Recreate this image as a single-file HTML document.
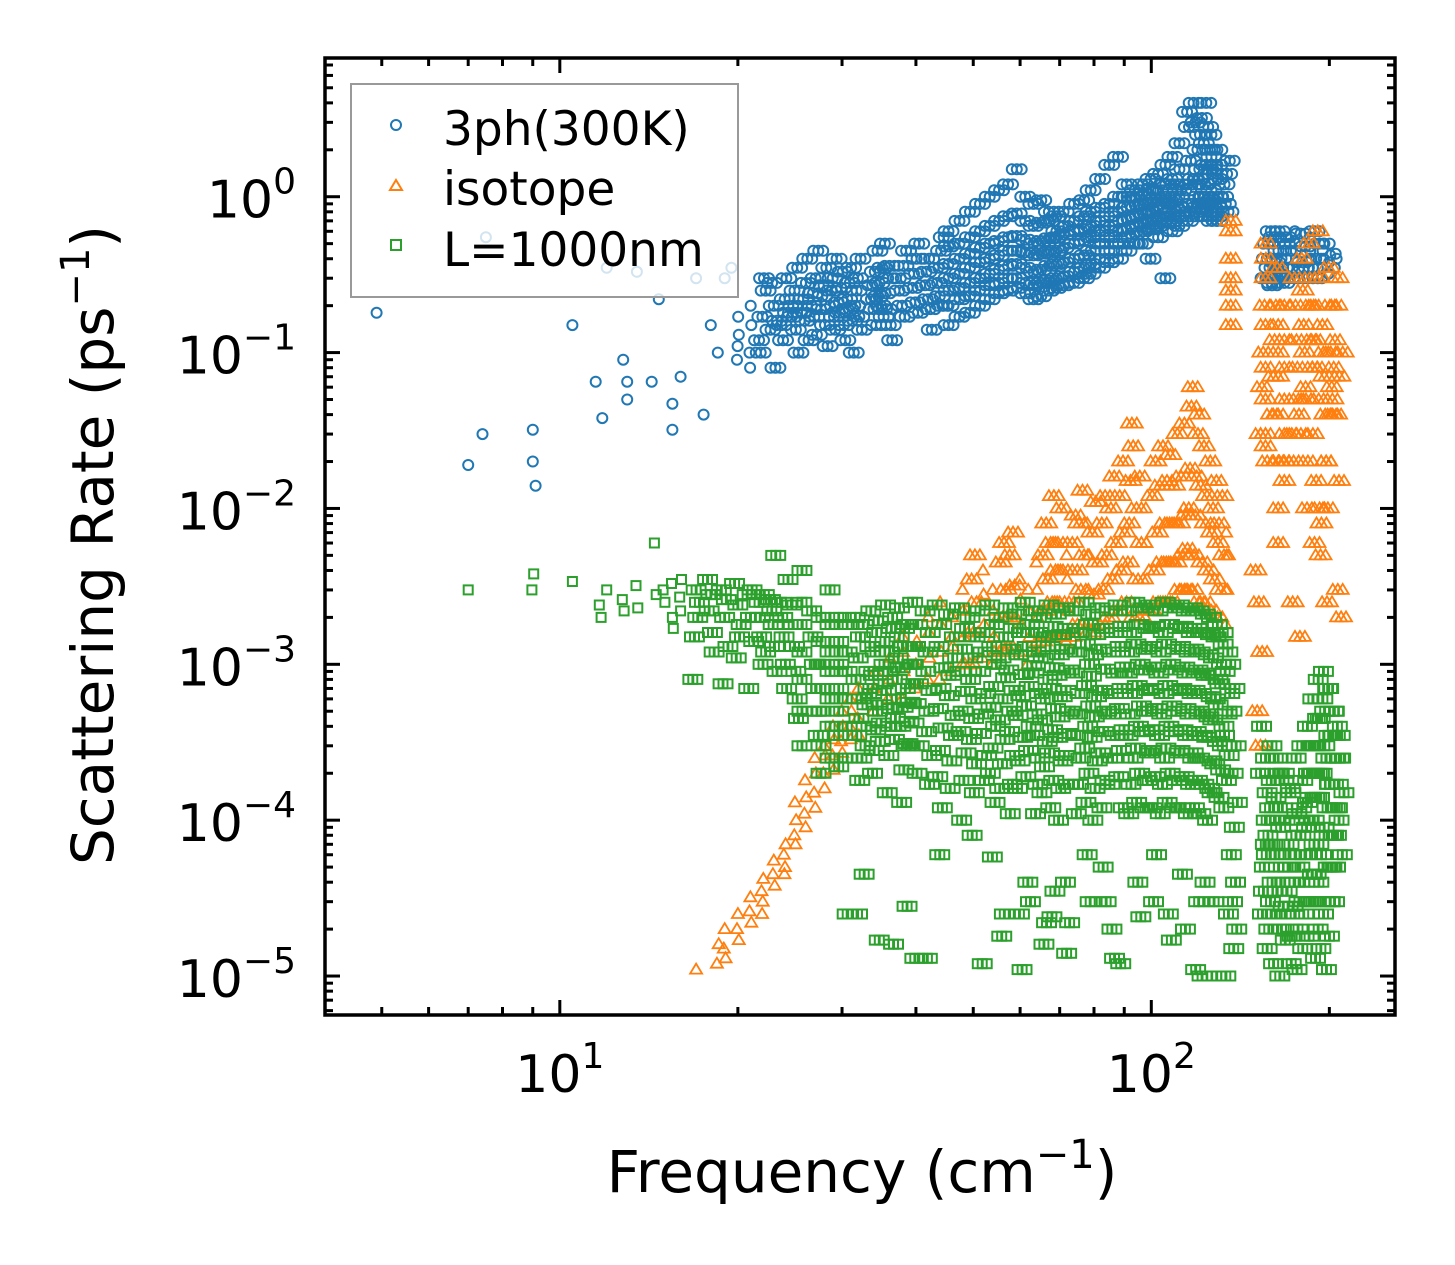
<!DOCTYPE html>
<html><head><meta charset="utf-8"><style>
html,body{margin:0;padding:0;background:#fff;}
svg{display:block;font-family:"DejaVu Sans","Liberation Sans",sans-serif;}
</style></head>
<body>
<svg id="chart" width="1455" height="1265" viewBox="0 0 1455 1265" xmlns="http://www.w3.org/2000/svg">
<rect width="1455" height="1265" fill="#fff"/>
<g id="marks-blue"></g>
<g id="marks-orange"></g>
<g id="marks-green"></g>
<g id="axes"></g>
<g id="legend">
  <rect x="351" y="84" width="387" height="213" fill="#fff" fill-opacity="0.8" stroke="#999" stroke-width="2"/>
  <g>
    <circle cx="396" cy="125" r="5" fill="none" stroke="#1f77b4" stroke-width="2"/>
    <text x="443" y="145" font-size="47">3ph(300K)</text>
  </g>
  <g>
    <polygon points="396,180 402,190 390,190" fill="none" stroke="#ff7f0e" stroke-width="2"/>
    <text x="443" y="205" font-size="47">isotope</text>
  </g>
  <g>
    <rect x="391" y="240" width="10" height="10" fill="none" stroke="#2ca02c" stroke-width="2"/>
    <text x="443" y="266" font-size="47">L=1000nm</text>
  </g>
</g>
<text x="862" y="1192" font-size="58" text-anchor="middle">Frequency (cm<tspan dy="-24" font-size="40">−1</tspan><tspan dy="24">)</tspan></text>
<text transform="translate(113,545) rotate(-90)" font-size="58" text-anchor="middle">Scattering Rate (ps<tspan dy="-24" font-size="40">−1</tspan><tspan dy="24">)</tspan></text>
</svg>
<script>
// ---- data ----
const blueFreq = [4.9,7,7.4,7.5,9,9,9.1,10.5,11.5,11.8,12,12.8,13,13,13.5,14.3,14.7,15.5,15.5,16,17,17.5,18,18.5,19,19.5];
const blueRate = [0.18,0.019,0.03,0.55,0.032,0.02,0.014,0.15,0.065,0.038,0.35,0.09,0.05,0.065,0.33,0.065,0.22,0.032,0.047,0.07,0.3,0.04,0.15,0.1,0.3,0.35];
const blueColFreq = [20,21,22,23,24,25,26,27,28,29,30,31,32,34,35,36,38,40,42,44,46,48,50,52,54,56,58,60,62,64,66,68,70,72,75,78,80,83,86,89,92,95,98,101,104,107,110,113,116,119,122,125,128,131,134,158,162,166,170,175,180,185,190,195,200,205];
const blueColRates = [
[.09,.13,.17,.11],[.1,.15,.2,.08],[.12,.17,.25,.1,.3],[.14,.2,.16,.28,.08],[.15,.22,.18,.12,.3],
[.17,.2,.25,.14,.35,.1],[.18,.22,.16,.28,.4,.12],[.2,.24,.17,.3,.13,.45],[.19,.23,.27,.15,.35,.11],[.2,.25,.3,.17,.14,.4],
[.21,.18,.26,.33,.15,.12],[.22,.19,.28,.35,.16,.1],[.2,.25,.3,.17,.4,.14],[.22,.27,.19,.33,.15,.45],[.23,.28,.2,.35,.17,.5],
[.24,.19,.3,.36,.15,.12],[.25,.3,.2,.36,.17,.45],[.26,.32,.21,.4,.18,.5],[.27,.33,.22,.4,.19,.14],[.28,.35,.23,.45,.2,.55],
[.3,.37,.25,.48,.2,.6,.15],[.32,.4,.26,.5,.22,.7,.17],[.35,.43,.28,.55,.23,.8,.18],[.38,.47,.3,.6,.25,.9,.2],[.4,.5,.32,.65,.27,1,.22],
[.42,.52,.34,.7,.28,1.1,.24],[.45,.55,.36,.75,.3,1.2,.25],[.45,.56,.37,.78,.3,1.5,.26],[.44,.53,.35,.7,.28,1.0,.24],[.42,.5,.33,.65,.27,.9,.22],
[.43,.52,.34,.68,.28,.95,.23],[.44,.54,.36,.7,.29,.8,.25],[.45,.55,.37,.6,.3,.75,.26],[.47,.57,.38,.65,.31,.8,.27],[.5,.6,.4,.7,.33,.9,.28],
[.52,.62,.42,.75,.35,.95,.3],[.55,.65,.45,.8,.37,1.1,.32],[.6,.7,.5,.85,.4,1.3,.35],[.65,.75,.55,.9,.45,1.6,.38],[.7,.8,.6,1,.5,1.8,.4],
[.72,.85,.62,1,.55,1.2,.45],[.75,.88,.65,1,.58,1.1,.5],[.78,.9,.68,1.05,.6,1.2,.5],[.8,.92,.7,1.1,.62,1.3,.4],[.85,.95,.72,1.1,.65,1.4,.55],
[.9,1,.75,1.2,.68,1.6,.3],[.95,1.1,.8,1.3,.7,1.8,.6],[1,1.2,.85,1.5,.75,2.2,.65],[1.1,1.3,.9,1.7,.8,2.8,.7,3.5],[1.2,1.5,1,2,.85,3,.75,4],
[1.3,1.6,1,2.2,.9,3.2,.8,2.5],[1.2,1.5,.95,2,.85,2.8,.75,4],[1.1,1.4,.9,1.8,.8,2.5,.7],[1.0,1.3,.85,1.6,.75,2,.7],[1,1.2,.9,1.4,.8,1.7],
[.3,.4,.5,.35,.6,.27],[.28,.38,.45,.55,.32],[.3,.4,.5,.6,.35],[.28,.35,.45,.55,.3],[.3,.4,.5,.6],
[.3,.38,.48,.58,.35],[.35,.45,.55,.4],[.3,.4,.5,.6,.35],[.3,.4,.5,.45],[.32,.42,.5,.38],[.35,.43,.4]
];
const orangeColFreq = [17,18.5,19,20,21,22,23,24,25,26,27,28,29,30,31,32,34,36,38,40,42,44,46,48,50,52,54,56,58,60,62,64,66,68,70,72,74,76,78,80,83,86,89,92,95,98,101,104,107,110,113,116,119,122,125,128,131,134,138,152,155,158,162,166,170,175,180,185,190,195,200,205,208];
const orangeColRates = [
[1.1e-5],[1.2e-5,1.6e-5],[1.5e-5,2e-5,1.3e-5],[2e-5,2.5e-5,1.7e-5],[2.6e-5,3.2e-5,2.2e-5],[3.5e-5,4.2e-5,3e-5,2.5e-5],
[4.5e-5,5.5e-5,3.8e-5],[6e-5,7e-5,5e-5,4.5e-5],[8e-5,1e-4,7e-5,1.3e-4],[1.1e-4,1.4e-4,9e-5,1.8e-4],[1.5e-4,2e-4,1.2e-4,2.5e-4],
[2e-4,2.6e-4,1.6e-4,3e-4],[2.6e-4,3.3e-4,2.1e-4,4e-4],[3.2e-4,4e-4,2.7e-4,5e-4],[4e-4,5e-4,3.3e-4,6e-4],[4.5e-4,6e-4,3.5e-4,7e-4],
[5e-4,7e-4,9e-4],[6e-4,8e-4,1.1e-3],[6e-4,9e-4,1.2e-3,1.5e-3],[7e-4,1e-3,1.4e-3],[8e-4,1.1e-3,1.6e-3,2e-3],[8e-4,1.2e-3,1.8e-3,2.5e-3],
[9e-4,1.3e-3,2e-3,1.5e-3],[1e-3,1.5e-3,2.2e-3,3e-3],[1e-3,1.6e-3,2.5e-3,3.5e-3,5e-3],[1.1e-3,1.8e-3,2.8e-3,4e-3],[1e-3,1.5e-3,2.2e-3,3e-3],
[1.2e-3,2e-3,3e-3,4.5e-3,6e-3],[1.3e-3,2e-3,3.2e-3,5e-3,7e-3],[1.2e-3,1.8e-3,2.6e-3,3.5e-3],[1e-3,1.5e-3,2.2e-3,3e-3],[1.2e-3,2e-3,3e-3,4.5e-3],
[1.4e-3,2.2e-3,3.5e-3,5e-3,8e-3],[1.5e-3,2.5e-3,4e-3,6e-3,1.2e-2],[1.5e-3,2.5e-3,4e-3,6e-3,1e-2],[1.4e-3,2.2e-3,3.5e-3,5e-3],
[1.5e-3,2.5e-3,4e-3,6e-3,9e-3],[1.8e-3,3e-3,5e-3,8e-3,1.3e-2],[1.8e-3,3e-3,5e-3,8e-3],[1.6e-3,2.8e-3,4.5e-3,7e-3,1.1e-2],
[1.8e-3,3e-3,5e-3,8e-3,1.2e-2],[2e-3,3.5e-3,6e-3,1e-2,1.6e-2],[2.2e-3,4e-3,7e-3,1.2e-2,2e-2],[2.5e-3,4.5e-3,8e-3,1.5e-2,3.5e-2,2.5e-2],
[2e-3,3.5e-3,6e-3,1e-2,1.6e-2],[2e-3,3.5e-3,6e-3,1e-2],[2.2e-3,4e-3,7e-3,1.2e-2,2e-2],[2.5e-3,4.5e-3,8e-3,1.4e-2,2.5e-2],
[2.5e-3,4.5e-3,8e-3,1.5e-2,2.2e-2],[2.5e-3,4.5e-3,8e-3,1.4e-2,3e-2],[3e-3,5e-3,9e-3,1.6e-2,3.5e-2],[3e-3,5.5e-3,1e-2,1.8e-2,4.5e-2,6e-2],
[3e-3,5e-3,9e-3,1.6e-2,3e-2,4e-2],[2.5e-3,4.5e-3,8e-3,1.4e-2,2.5e-2],[2.5e-3,4e-3,7e-3,1.2e-2,2e-2],[2.2e-3,3.5e-3,6e-3,1e-2,1.5e-2],
[2e-3,3e-3,5e-3,8e-3,1.2e-2],[1.8e-3,3e-3,5e-3,7e-3],[.15,.25,.4,.6,.7,.2,.3],[4e-3,2.5e-3,1.2e-3,5e-4,3e-4],
[.03,.06,.1,.2,.4,.02],[.03,.05,.08,.15,.3,.5,.025],[.04,.07,.12,.2,.35,.02],[.02,.04,.07,.1,.15,.01,6e-3],
[.02,.03,.05,.08,.12,.2,.015],[.03,.05,.08,.12,.2,.3,.02,2.5e-3],[.04,.06,.1,.15,.25,.4,.03,1.5e-3],[.05,.08,.12,.2,.3,.5,.02,.01],
[.03,.05,.08,.12,.2,.3,.6,.015,6e-3],[.01,.02,.04,.07,.1,.15,.008,5e-3],[.02,.04,.06,.1,.2,.35,.01,2.5e-3],[.05,.08,.12,.2,.3,.015],[.04,.07,.1,3e-3,2e-3]
];
const greenColFreq = [7,9,10.5,11.7,12,12.8,13.5,14.5,15,15.5,16,17,18,19,20,21,22,23,24,25,26,27,28,29,30,31,32,33,34,35,36,37,38,39,40,42,44,46,48,50,52,54,56,58,60,62,64,66,68,70,72,75,78,80,83,86,89,92,95,98,101,104,107,110,113,116,119,122,125,128,131,134,138,155,158,162,166,170,174,178,182,186,190,194,198,202,206,209];
const greenColRates = [
[3e-3],[3e-3,3.8e-3],[3.4e-3],[2.4e-3,2e-3],[3e-3],[2.6e-3,2.2e-3],[3.2e-3,2.3e-3],[6e-3,2.8e-3],[3e-3,2.5e-3],[3.3e-3,2e-3,1.7e-3],
[2.7e-3,2.2e-3,3.5e-3],[8e-4,3e-3,2.5e-3,1.5e-3,2e-3],[3.5e-3,2.8e-3,1.2e-3,2.2e-3,1.6e-3],[3e-3,2e-3,1.3e-3,7.5e-4,2.6e-3],
[3.3e-3,2.4e-3,1.8e-3,1.1e-3,1.5e-3],[2.8e-3,2e-3,1.4e-3,7e-4,3e-3],[2.5e-3,2e-3,1.5e-3,1e-3,2.8e-3,1.2e-3],[2.6e-3,2.2e-3,1.8e-3,1.3e-3,5e-3,9e-4],
[2.5e-3,2e-3,1.5e-3,1e-3,7e-4,3.5e-3],[2.4e-3,1.8e-3,1.3e-3,9e-4,6e-4,4.5e-4],[2.5e-3,1.8e-3,1.2e-3,8e-4,5e-4,3e-4,4e-3],
[2.2e-3,1.5e-3,1e-3,7e-4,5e-4,3.5e-4],[2e-3,1.4e-3,1e-3,7e-4,5e-4,3e-4,2e-4],[1.8e-3,1.2e-3,9e-4,6e-4,4e-4,2.5e-4,3e-3],
[2e-3,1.4e-3,1e-3,7e-4,5e-4,3.5e-4,2.2e-4],[1.8e-3,1.2e-3,9e-4,6e-4,4e-4,2.5e-5,2.5e-4],
[2e-3,1.5e-3,1.1e-3,8e-4,6e-4,4.5e-4,3.5e-4,2.5e-4,1.8e-4,2.5e-5],[1.8e-3,1.3e-3,9e-4,7e-4,5.5e-4,4e-4,3e-4,4.5e-5],
[2.2e-3,1.6e-3,1.2e-3,8.5e-4,6.5e-4,5e-4,3.8e-4,2.8e-4,2e-4],[1.9e-3,1.4e-3,1e-3,7.5e-4,5.5e-4,4.2e-4,3.2e-4,1.7e-5],
[2.4e-3,1.7e-3,1.2e-3,9e-4,6.8e-4,5.2e-4,4e-4,2.6e-4,1.5e-4],[2e-3,1.5e-3,1.1e-3,8e-4,6e-4,4.5e-4,3.3e-4,1.6e-5],
[2.3e-3,1.7e-3,1.3e-3,9.5e-4,7e-4,5.3e-4,4e-4,3e-4,2.1e-4,1.3e-4],[1.8e-3,1.3e-3,1e-3,7.5e-4,5.7e-4,4.3e-4,3.1e-4,2.8e-5],
[2.5e-3,1.8e-3,1.3e-3,1e-3,7.5e-4,5.6e-4,4.2e-4,3e-4,2e-4,1.3e-5],[2.2e-3,1.6e-3,1.2e-3,9e-4,6.8e-4,5e-4,3.7e-4,2.6e-4,1.7e-4,1.3e-5],
[2.4e-3,1.8e-3,1.3e-3,9.5e-4,7e-4,5.2e-4,3.9e-4,2.8e-4,1.9e-4,1.2e-4,6e-5],[2.1e-3,1.5e-3,1.1e-3,8.5e-4,6.3e-4,4.7e-4,3.5e-4,2.4e-4,1.6e-4],
[2.3e-3,1.7e-3,1.25e-3,9e-4,6.7e-4,5e-4,3.7e-4,2.7e-4,1.8e-4,1e-4],[2e-3,1.5e-3,1.1e-3,8e-4,6e-4,4.5e-4,3.3e-4,2.3e-4,1.5e-4,8e-5],
[2.2e-3,1.6e-3,1.2e-3,9e-4,6.5e-4,4.8e-4,3.6e-4,2.6e-4,1.8e-4,1.2e-5],[2.4e-3,1.8e-3,1.3e-3,1e-3,7.2e-4,5.3e-4,4e-4,2.9e-4,2e-4,1.3e-4,5.8e-5],
[2e-3,1.5e-3,1.1e-3,8.2e-4,6e-4,4.4e-4,3.3e-4,2.3e-4,1.6e-4,2.5e-5,1.8e-5],[2.3e-3,1.7e-3,1.25e-3,9.2e-4,6.8e-4,5e-4,3.7e-4,2.6e-4,1.7e-4,1.1e-4],
[2.1e-3,1.6e-3,1.15e-3,8.6e-4,6.3e-4,4.7e-4,3.4e-4,2.4e-4,1.6e-4,1.1e-5,2.5e-5],[2.5e-3,1.8e-3,1.3e-3,9.8e-4,7.2e-4,5.4e-4,4e-4,2.8e-4,1.9e-4,3e-5,4e-5],
[2.2e-3,1.6e-3,1.2e-3,8.8e-4,6.5e-4,4.8e-4,3.5e-4,2.5e-4,1.7e-4,1.1e-4],[2e-3,1.5e-3,1.1e-3,8e-4,6e-4,4.4e-4,3.2e-4,2.2e-4,1.5e-4,2.2e-5,1.6e-5],
[2.4e-3,1.75e-3,1.3e-3,9.5e-4,7e-4,5.2e-4,3.8e-4,2.7e-4,1.8e-4,1.2e-4,3.5e-5,2.4e-5],[2.1e-3,1.55e-3,1.15e-3,8.5e-4,6.2e-4,4.6e-4,3.4e-4,2.4e-4,1.6e-4,1e-4],
[2.3e-3,1.7e-3,1.25e-3,9.2e-4,6.8e-4,5e-4,3.6e-4,2.6e-4,1.7e-4,4e-5,2.2e-5,1.4e-5],[2.2e-3,1.6e-3,1.2e-3,8.8e-4,6.5e-4,4.8e-4,3.5e-4,2.5e-4,1.7e-4,1.1e-4],
[2.5e-3,1.8e-3,1.35e-3,1e-3,7.3e-4,5.4e-4,4e-4,2.9e-4,2e-4,1.3e-4,3e-5,6e-5],[2.1e-3,1.55e-3,1.15e-3,8.4e-4,6.2e-4,4.6e-4,3.4e-4,2.4e-4,1.6e-4,1e-4],
[2.3e-3,1.7e-3,1.25e-3,9.3e-4,6.8e-4,5e-4,3.7e-4,2.7e-4,1.8e-4,1.2e-4,3e-5,5e-5],[2.2e-3,1.6e-3,1.2e-3,8.8e-4,6.5e-4,4.8e-4,3.5e-4,2.5e-4,1.7e-4,1.3e-5,2e-5],
[2.4e-3,1.75e-3,1.3e-3,9.6e-4,7e-4,5.2e-4,3.8e-4,2.8e-4,1.9e-4,1.2e-4,1.2e-5],[2.2e-3,1.6e-3,1.2e-3,8.8e-4,6.5e-4,4.8e-4,3.5e-4,2.5e-4,1.7e-4,1.1e-4],
[2.5e-3,1.8e-3,1.35e-3,1e-3,7.3e-4,5.4e-4,4e-4,2.9e-4,2e-4,1.3e-4,2.4e-5,4e-5],[2.3e-3,1.7e-3,1.25e-3,9.2e-4,6.8e-4,5e-4,3.7e-4,2.7e-4,1.8e-4,1.2e-4],
[2.4e-3,1.75e-3,1.3e-3,9.6e-4,7e-4,5.2e-4,3.8e-4,2.8e-4,1.9e-4,1.2e-4,6e-5,3e-5],[2.2e-3,1.6e-3,1.2e-3,8.8e-4,6.5e-4,4.8e-4,3.5e-4,2.5e-4,1.7e-4,1.1e-4],
[2.5e-3,1.8e-3,1.35e-3,1e-3,7.3e-4,5.4e-4,4e-4,2.9e-4,2e-4,1.3e-4,1.7e-5,2.5e-5],[2.3e-3,1.7e-3,1.25e-3,9.2e-4,6.8e-4,5e-4,3.7e-4,2.7e-4,1.8e-4,1.2e-4],
[2.4e-3,1.75e-3,1.3e-3,9.6e-4,7e-4,5.2e-4,3.8e-4,2.8e-4,1.9e-4,1.2e-4,2e-5,4.5e-5],[2.2e-3,1.6e-3,1.2e-3,8.8e-4,6.5e-4,4.8e-4,3.5e-4,2.5e-4,1.7e-4,1.1e-4],
[2.3e-3,1.7e-3,1.25e-3,9.2e-4,6.8e-4,5e-4,3.7e-4,2.7e-4,1.8e-4,1.2e-4,3e-5,1.1e-5],[2.2e-3,1.6e-3,1.2e-3,8.8e-4,6.5e-4,4.8e-4,3.5e-4,2.5e-4,1.7e-4,1.1e-4,4e-5,1e-5],
[2.1e-3,1.55e-3,1.15e-3,8.5e-4,6.2e-4,4.6e-4,3.4e-4,2.4e-4,1.6e-4,1e-4],[2e-3,1.5e-3,1.1e-3,8e-4,6e-4,4.4e-4,3.2e-4,2.3e-4,1.5e-4,1e-5,3e-5],
[1.8e-3,1.35e-3,1e-3,7.5e-4,5.5e-4,4e-4,3e-4,2.1e-4,1.4e-4],[1.6e-3,1.2e-3,9e-4,6.5e-4,4.8e-4,3.5e-4,2.6e-4,1.8e-4,1.2e-4,2.5e-5,1e-5],
[1e-3,7e-4,5e-4,3e-4,2e-4,1.3e-4,9e-5,6e-5,4e-5,3e-5,2e-5,1.5e-5],
[2e-4,1.5e-4,1e-4,7e-5,5e-5,3.5e-5,2.5e-5,4e-4],[2.5e-4,1.8e-4,1.2e-4,8e-5,6e-5,4e-5,3e-5,2e-5,1.5e-5],
[3e-4,2e-4,1.4e-4,1e-4,7e-5,5e-5,3.5e-5,2.5e-5,1.2e-5],[2.5e-4,1.8e-4,1.2e-4,9e-5,6e-5,4e-5,2.8e-5,2e-5,1e-5],
[2e-4,1.5e-4,1e-4,7e-5,5e-5,3.5e-5,2.5e-5,1.7e-5],[1.6e-4,1.1e-4,8e-5,6e-5,4e-5,2.8e-5,1.8e-5,1.2e-5],
[2.5e-4,1.8e-4,1.2e-4,8e-5,5e-5,3e-5,2e-5,1.1e-5],[3e-4,2e-4,1.3e-4,9e-5,6e-5,4e-5,2.5e-5,1.5e-5],
[4e-4,3e-4,2e-4,1.4e-4,1e-4,7e-5,4.5e-5,3e-5,1.8e-5],[6e-4,4.5e-4,3e-4,2e-4,1.4e-4,1e-4,7e-5,4.5e-5,3e-5,2e-5,1.3e-5],
[8e-4,6e-4,4.5e-4,3e-4,2e-4,1.4e-4,9e-5,6e-5,4e-5,2.5e-5,1.5e-5],[9e-4,7e-4,5e-4,3.5e-4,2.5e-4,1.7e-4,1.2e-4,8e-5,5e-5,3e-5,1.8e-5,1.1e-5],
[7e-4,5e-4,3.5e-4,2.5e-4,1.7e-4,1.2e-4,8e-5,5e-5,3e-5],[5e-4,3.5e-4,2.5e-4,1.7e-4,1.2e-4,8e-5,5e-5,3e-5],[4e-4,2.5e-4,1.5e-4,1e-4,6e-5]
];
const xTickValues = [10, 100];
const xTickExps = ["1", "2"];
const yTickValues = [1, 0.1, 0.01, 0.001, 0.0001, 0.00001];
const yTickExps = ["0", "−1", "−2", "−3", "−4", "−5"];

// ---- axes functions ----
const L = 325, R = 1395, T = 58, B = 1015;
const xMinLog = 0.603, xMaxLog = 2.412;
const yMinLog = -5.25, yMaxLog = 0.89;
function xs(v){ return L + (Math.log10(v) - xMinLog) / (xMaxLog - xMinLog) * (R - L); }
function ys(v){ return B - (Math.log10(v) - yMinLog) / (yMaxLog - yMinLog) * (B - T); }
const NS = "http://www.w3.org/2000/svg";
function mk(tag, attrs, parent){
  const e = document.createElementNS(NS, tag);
  for (const k in attrs) e.setAttribute(k, attrs[k]);
  parent.appendChild(e);
  return e;
}
function circle(g, x, r){
  const e = mk("circle", {cx: x.toFixed(1), cy: ys(r).toFixed(1), r: 5, fill: "none", stroke: "#1f77b4", "stroke-width": 2}, g);
  
  
}
function tri(g, x, r){
  const y = ys(r);
  const e = mk("polygon", {points: `${x.toFixed(1)},${(y-6).toFixed(1)} ${(x+6).toFixed(1)},${(y+4).toFixed(1)} ${(x-6).toFixed(1)},${(y+4).toFixed(1)}`, fill: "none", stroke: "#ff7f0e", "stroke-width": 1.8}, g);
  
  
}
function sq(g, x, r){
  const e = mk("rect", {x: (x-4.5).toFixed(1), y: (ys(r)-4.5).toFixed(1), width: 9, height: 9, fill: "none", stroke: "#2ca02c", "stroke-width": 2}, g);
  
  
}
// each column's points are spread over the column's pixel interval
function drawCols(g, freqs, rates, fn){
  freqs.forEach((f,i)=>{
    const x0 = xs(f);
    const vals = rates[i];
    const n = vals.length;
    const w = n >= 5 ? 11 : 3;
    vals.forEach((r,j)=>{
      const off = n > 1 ? ((j*7) % n) / (n-1) - 0.5 : 0;
      const x = x0 + off*w*0.6;
      if (n >= 5){ fn(g, x - w*0.45, r); fn(g, x + w*0.45, r); }
      fn(g, x, r);
    });
  });
}
const gB = document.getElementById("marks-blue");
const gO = document.getElementById("marks-orange");
const gG = document.getElementById("marks-green");
blueFreq.forEach((f,i)=>circle(gB, xs(f), blueRate[i]));
drawCols(gB, blueColFreq, blueColRates, circle);
drawCols(gO, orangeColFreq, orangeColRates, tri);
drawCols(gG, greenColFreq, greenColRates, sq);

// ---- axes drawing ----
const gA = document.getElementById("axes");
const frame = mk("rect", {x: L, y: T, width: R-L, height: B-T, fill: "none", stroke: "#000", "stroke-width": 3.5}, gA);


for (let d = 0; d <= 2; d++){
  for (let m = 1; m <= 9; m++){
    const v = m * Math.pow(10, d);
    const lg = Math.log10(v);
    if (lg < xMinLog || lg > xMaxLog) continue;
    const len = m === 1 ? 15 : 8;
    const x = xs(v);
    mk("line", {x1: x, x2: x, y1: B, y2: B-len, stroke: "#000", "stroke-width": 3}, gA);
    mk("line", {x1: x, x2: x, y1: T, y2: T+len, stroke: "#000", "stroke-width": 3}, gA);
  }
}
for (let d = -6; d <= 0; d++){
  for (let m = 1; m <= 9; m++){
    const v = m * Math.pow(10, d);
    const lg = Math.log10(v);
    if (lg < yMinLog || lg > yMaxLog) continue;
    const len = m === 1 ? 15 : 8;
    const y = ys(v);
    mk("line", {x1: L, x2: L+len, y1: y, y2: y, stroke: "#000", "stroke-width": 3}, gA);
    mk("line", {x1: R, x2: R-len, y1: y, y2: y, stroke: "#000", "stroke-width": 3}, gA);
  }
}
xTickValues.forEach((v,i)=>{
  const t = mk("text", {x: xs(v), y: 1092, "font-size": 52, "text-anchor": "middle"}, gA);
  
  
  t.appendChild(document.createTextNode("10"));
  const s = mk("tspan", {dy: -24, "font-size": 36}, t);
  s.textContent = xTickExps[i];
});
yTickValues.forEach((v,i)=>{
  const t = mk("text", {x: 296, y: ys(v)+21, "font-size": 52, "text-anchor": "end"}, gA);
  
  
  t.appendChild(document.createTextNode("10"));
  const s = mk("tspan", {dy: -24, "font-size": 36}, t);
  s.textContent = yTickExps[i];
});
</script>
</body></html>
